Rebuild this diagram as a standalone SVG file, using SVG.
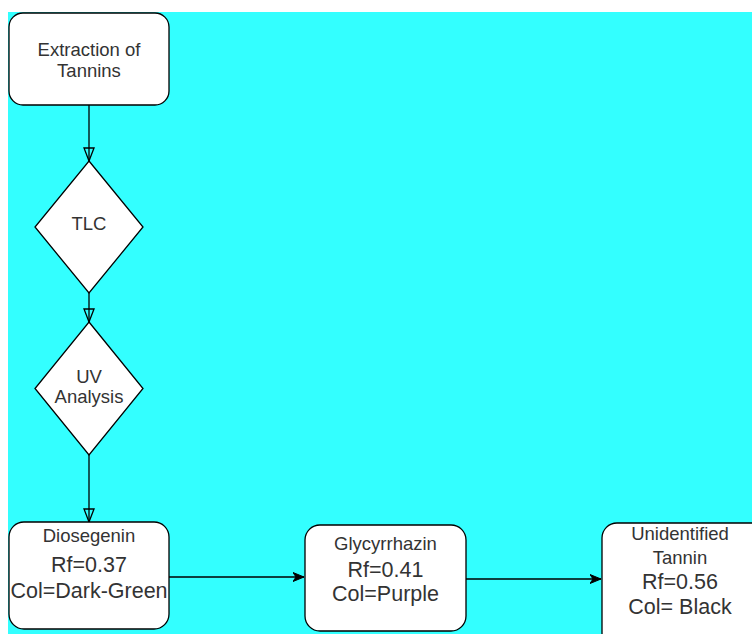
<svg xmlns="http://www.w3.org/2000/svg" width="752" height="634" viewBox="0 0 752 634">
<defs>
<style>
.box{fill:#ffffff;stroke:#000000;stroke-width:1.3}
.lbl{font-family:"Liberation Sans",Arial,sans-serif;fill:#333333;text-anchor:middle}
.s{font-size:18.5px}
.b{font-size:21.5px}
.edge{fill:none;stroke:#000000;stroke-width:1.3}
</style>
<marker id="open" viewBox="0 0 14 12" refX="14" refY="6" markerWidth="14" markerHeight="12" markerUnits="userSpaceOnUse" orient="auto">
<path d="M1,1 L14,6 L1,11 Z" fill="none" stroke="#000000" stroke-width="1.3"/>
</marker>
<marker id="classic" viewBox="0 0 12 10" refX="11" refY="5" markerWidth="12" markerHeight="10" markerUnits="userSpaceOnUse" orient="auto">
<path d="M0,0.5 L11,5 L0,9.5 L3,5 Z" fill="#000000" stroke="#000000" stroke-width="1"/>
</marker>
</defs>
<rect x="0" y="0" width="752" height="634" fill="#ffffff"/>
<rect x="8" y="12" width="744" height="622" fill="#33ffff"/>
<g id="connectors">
<path class="edge" d="M89,105 L89,161" marker-end="url(#open)"/>
<path class="edge" d="M89,293 L89,322" marker-end="url(#open)"/>
<path class="edge" d="M89,455 L89,522" marker-end="url(#open)"/>
<path class="edge" d="M169,577 L304,577" marker-end="url(#classic)"/>
<path class="edge" d="M466,579 L601,579" marker-end="url(#classic)"/>
</g>
<g id="extraction">
<rect class="box" x="9" y="13" width="160" height="92" rx="14" ry="14"/>
<text class="lbl s" x="89" y="56">Extraction of</text>
<text class="lbl s" x="89" y="77">Tannins</text>
</g>
<g id="tlc">
<polygon class="box" points="89,161 143,227 89,293 35,227"/>
<text class="lbl s" x="89" y="230">TLC</text>
</g>
<g id="uv">
<polygon class="box" points="89,322 143,388.5 89,455 35,388.5"/>
<text class="lbl s" x="89" y="383">UV</text>
<text class="lbl s" x="89" y="403">Analysis</text>
</g>
<g id="diosegenin">
<rect class="box" x="9" y="522" width="160" height="107" rx="15" ry="15"/>
<text class="lbl s" x="89" y="542">Diosegenin</text>
<text class="lbl b" x="89" y="572">Rf=0.37</text>
<text class="lbl b" x="89" y="597.5">Col=Dark-Green</text>
</g>
<g id="glycyrrhazin">
<rect class="box" x="305" y="525" width="161" height="106" rx="15" ry="15"/>
<text class="lbl s" x="385.5" y="549.5">Glycyrrhazin</text>
<text class="lbl b" x="385.5" y="576.5">Rf=0.41</text>
<text class="lbl b" x="385.5" y="601">Col=Purple</text>
</g>
<g id="unidentified">
<rect class="box" x="602" y="523" width="170" height="125" rx="15" ry="15"/>
<text class="lbl s" x="680" y="540">Unidentified</text>
<text class="lbl s" x="680" y="563.5">Tannin</text>
<text class="lbl b" x="680" y="589">Rf=0.56</text>
<text class="lbl b" x="680" y="614">Col= Black</text>
</g>
</svg>
